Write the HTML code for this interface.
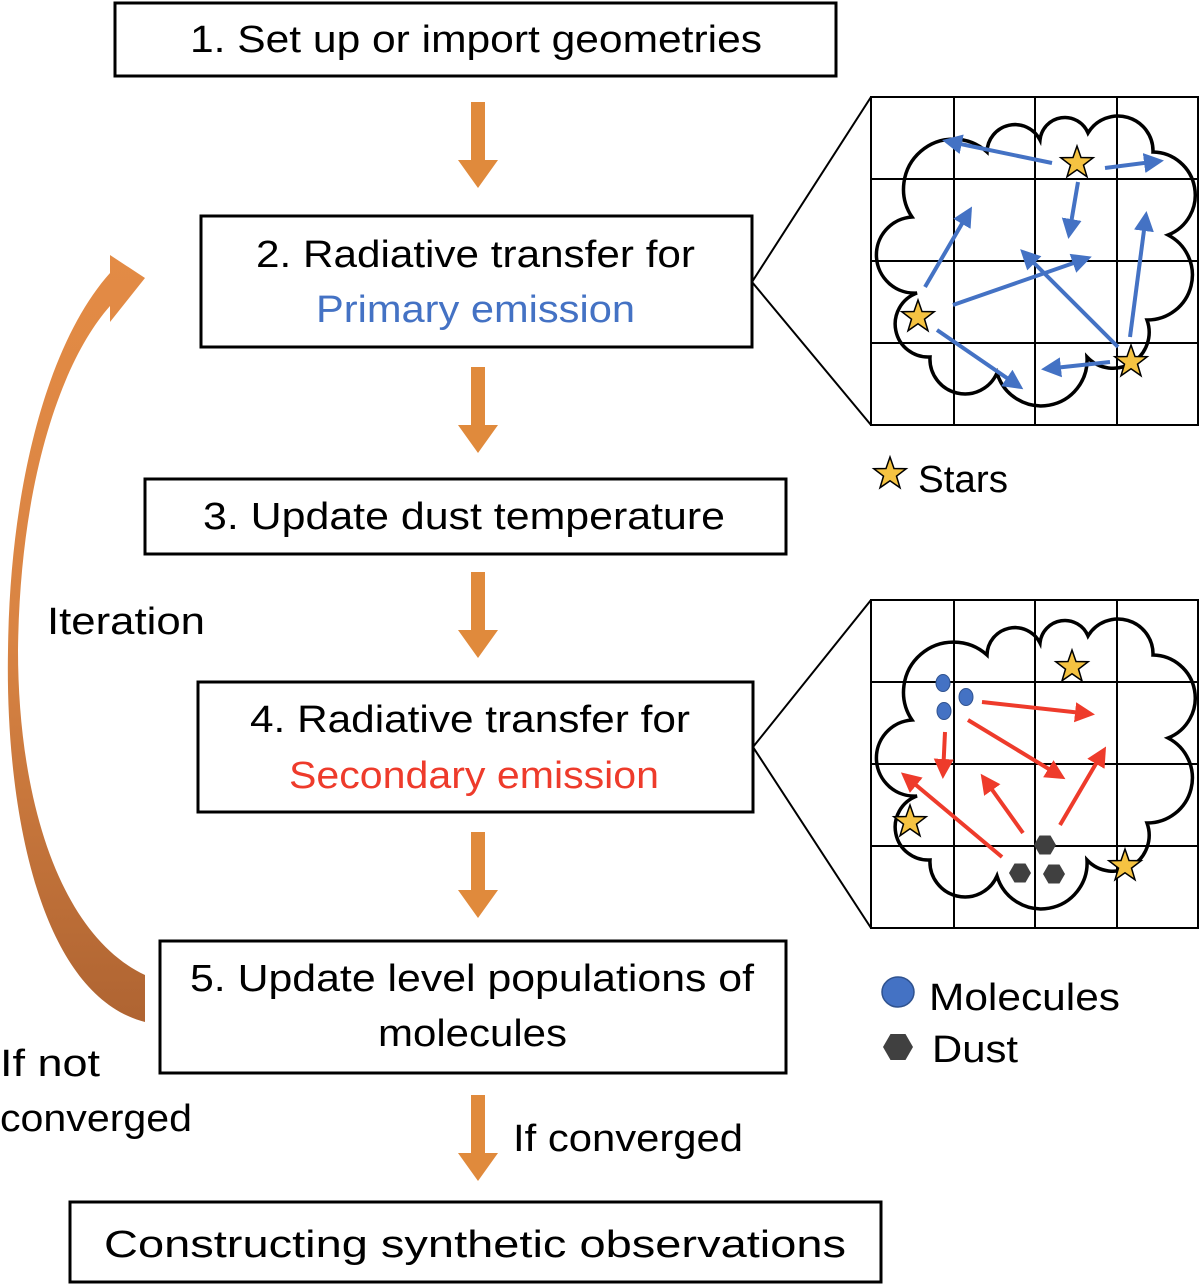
<!DOCTYPE html>
<html><head><meta charset="utf-8"><style>
html,body{margin:0;padding:0;background:#fff;}
svg{display:block;}
text{font-family:"Liberation Sans",sans-serif;font-size:38px;fill:#000;}
</style></head><body>
<svg width="1200" height="1285" viewBox="0 0 1200 1285" xmlns="http://www.w3.org/2000/svg">
<defs>
<linearGradient id="og" x1="0" y1="0" x2="0" y2="1">
<stop offset="0" stop-color="#E38B45"/><stop offset="0.5" stop-color="#D98443"/><stop offset="1" stop-color="#AF6432"/>
</linearGradient>
<g id="cloud">
<path d="M41,120 A50,50 0 0 1 116,55 A28,28 0 0 1 169,43 A25,25 0 0 1 217,36 A35,35 0 0 1 282,55 A43,43 0 0 1 297,138 A45,45 0 0 1 276,223 A36,36 0 0 1 216,260 A46,46 0 0 1 126,276 A35,35 0 0 1 59,260 A33,33 0 0 1 46,196 A38,38 0 0 1 41,120 Z" fill="none" stroke="#000" stroke-width="3.5"/>
</g>
<g id="grid" fill="none" stroke="#000" stroke-width="2">
<rect x="0" y="0" width="327" height="328"/>
<line x1="83" y1="0" x2="83" y2="328"/><line x1="164" y1="0" x2="164" y2="328"/><line x1="246" y1="0" x2="246" y2="328"/>
<line x1="0" y1="82" x2="327" y2="82"/><line x1="0" y1="164" x2="327" y2="164"/><line x1="0" y1="246" x2="327" y2="246"/>
</g>
<path id="star" d="M0,-17 L4,-5.5 L16.2,-5.3 L6.5,2.1 L10,13.8 L0,6.8 L-10,13.8 L-6.5,2.1 L-16.2,-5.3 L-4,-5.5Z" fill="#F5C342" stroke="#000" stroke-width="1.5"/>
<marker id="bh" markerWidth="6" markerHeight="6" refX="4" refY="3" orient="auto" markerUnits="strokeWidth"><path d="M0,0.5 L5,3 L0,5.5 Z" fill="#4472C4"/></marker>
<marker id="rh" markerWidth="6" markerHeight="6" refX="4" refY="3" orient="auto" markerUnits="strokeWidth"><path d="M0,0.5 L5,3 L0,5.5 Z" fill="#EE3B2B"/></marker>
<g id="down"><rect x="-7" y="0" width="14" height="60" fill="#E08A3C"/><path d="M-20,58 L20,58 L0,86 Z" fill="#E08A3C"/></g>
</defs>

<g fill="none" stroke="#000" stroke-width="3">
<rect x="115" y="3" width="721" height="73"/>
<rect x="201" y="216" width="551" height="131"/>
<rect x="145" y="479" width="641" height="75"/>
<rect x="198" y="682" width="555" height="130"/>
<rect x="160" y="941" width="626" height="132"/>
<rect x="70" y="1202" width="811" height="80"/>
</g>

<use href="#down" x="478" y="102"/>
<use href="#down" x="478" y="367"/>
<use href="#down" x="478" y="572"/>
<use href="#down" x="478" y="832"/>
<use href="#down" x="478" y="1095"/>

<path d="M145,975 L145,1022 C40,995 5,810 8,650 C10,480 50,340 110,273 L110,255 L145,278 L110,322 L110,306 C62,360 20,480 18,650 C18,800 60,935 145,975 Z" fill="url(#og)"/>

<g stroke="#000" stroke-width="2" fill="none">
<polyline points="871,97 752,282 871,425"/>
<polyline points="871,600 753,747 871,928"/>
</g>

<use href="#grid" x="871" y="97"/>
<use href="#cloud" x="871" y="97"/>
<g stroke="#4472C4" stroke-width="4" marker-end="url(#bh)" fill="none">
<line x1="1052" y1="163" x2="946" y2="141"/>
<line x1="1105" y1="168" x2="1160" y2="161"/>
<line x1="1078" y1="182" x2="1069" y2="235"/>
<line x1="925" y1="287" x2="970" y2="210"/>
<line x1="953" y1="305" x2="1088" y2="258"/>
<line x1="1118" y1="347" x2="1023" y2="252"/>
<line x1="1130" y1="337" x2="1146" y2="215"/>
<line x1="937" y1="330" x2="1020" y2="387"/>
<line x1="1110" y1="362" x2="1045" y2="369"/>
</g>
<use href="#star" x="1077" y="163"/>
<use href="#star" x="918" y="317"/>
<use href="#star" x="1131" y="362"/>

<use href="#grid" x="871" y="600"/>
<use href="#cloud" x="871" y="600"/>
<g stroke="#EE3B2B" stroke-width="4" marker-end="url(#rh)" fill="none">
<line x1="982" y1="702" x2="1091" y2="714"/>
<line x1="968" y1="720" x2="1062" y2="777"/>
<line x1="945" y1="732" x2="943" y2="775"/>
<line x1="1002" y1="857" x2="904" y2="775"/>
<line x1="1023" y1="833" x2="983" y2="777"/>
<line x1="1060" y1="825" x2="1104" y2="750"/>
</g>
<use href="#star" x="1072" y="667"/>
<use href="#star" x="910" y="822"/>
<use href="#star" x="1125" y="866"/>
<g fill="#4472C4" stroke="#2F528F" stroke-width="1">
<ellipse cx="943" cy="683" rx="7" ry="8.5"/><ellipse cx="966" cy="697" rx="7" ry="8.5"/><ellipse cx="944" cy="711" rx="7" ry="8.5"/>
</g>
<g fill="#404040">
<polygon points="1034,845 1039.5,835.5 1050.5,835.5 1056,845 1050.5,854.5 1039.5,854.5"/>
<polygon points="1009,873 1014.5,863.5 1025.5,863.5 1031,873 1025.5,882.5 1014.5,882.5"/>
<polygon points="1043,874 1048.5,864.5 1059.5,864.5 1065,874 1059.5,883.5 1048.5,883.5"/>
</g>

<use href="#star" x="890" y="474"/>
<text x="918" y="492" textLength="90" lengthAdjust="spacingAndGlyphs">Stars</text>
<ellipse cx="898" cy="992" rx="16" ry="15" fill="#4472C4" stroke="#2F528F" stroke-width="1.5"/>
<text x="929" y="1010" textLength="191" lengthAdjust="spacingAndGlyphs">Molecules</text>
<polygon points="883,1047 890.5,1034 905.5,1034 913,1047 905.5,1060 890.5,1060" fill="#404040"/>
<text x="932" y="1062" textLength="86" lengthAdjust="spacingAndGlyphs">Dust</text>

<text x="190" y="52" textLength="572" lengthAdjust="spacingAndGlyphs">1. Set up or import geometries</text>
<text x="256" y="267" textLength="439" lengthAdjust="spacingAndGlyphs">2. Radiative transfer for</text>
<text x="316" y="322" textLength="319" lengthAdjust="spacingAndGlyphs" style="fill:#4472C4">Primary emission</text>
<text x="203" y="529" textLength="522" lengthAdjust="spacingAndGlyphs">3. Update dust temperature</text>
<text x="47" y="634" textLength="158" lengthAdjust="spacingAndGlyphs">Iteration</text>
<text x="250" y="732" textLength="440" lengthAdjust="spacingAndGlyphs">4. Radiative transfer for</text>
<text x="289" y="788" textLength="370" lengthAdjust="spacingAndGlyphs" style="fill:#EE3B2B">Secondary emission</text>
<text x="190" y="991" textLength="564" lengthAdjust="spacingAndGlyphs">5. Update level populations of</text>
<text x="378" y="1046" textLength="189" lengthAdjust="spacingAndGlyphs">molecules</text>
<text x="0" y="1076" textLength="100" lengthAdjust="spacingAndGlyphs">If not</text>
<text x="0" y="1131" textLength="192" lengthAdjust="spacingAndGlyphs">converged</text>
<text x="513" y="1151" textLength="230" lengthAdjust="spacingAndGlyphs">If converged</text>
<text x="104" y="1257" textLength="742" lengthAdjust="spacingAndGlyphs">Constructing synthetic observations</text>
</svg>
</body></html>
